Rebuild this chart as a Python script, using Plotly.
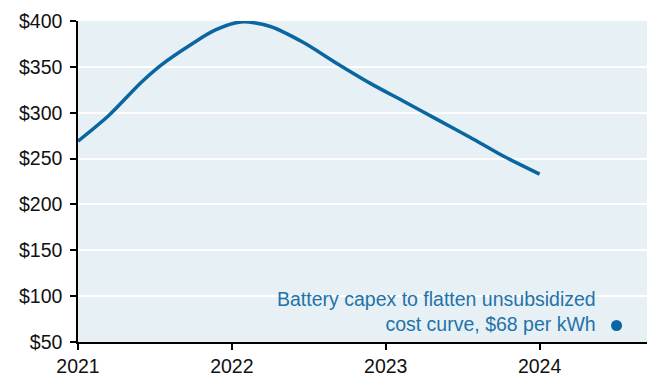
import plotly.graph_objects as go

# battery capex, $ per kWh
years = [2021.0, 2021.2, 2021.41, 2021.54, 2021.74, 2021.89, 2022.06, 2022.25,
         2022.46, 2022.68, 2022.9, 2023.11, 2023.33, 2023.55, 2023.76, 2024.0]
capex = [269, 297, 333, 352, 375, 390, 399, 394,
         377, 354, 332, 313, 293, 273, 253, 233]

target_year = [2024.5]
target_capex = [68]
target_label = "Battery capex to flatten unsubsidized<br>cost curve, $68 per kWh"

blue = "#0a66a0"

fig = go.Figure()
fig.add_trace(go.Scatter(x=years, y=capex, mode="lines",
                         line=dict(color=blue, width=3.5, shape="spline", smoothing=0.8)))
fig.add_trace(go.Scatter(x=target_year, y=target_capex, mode="markers",
                         marker=dict(color=blue, size=11)))

fig.add_annotation(x=target_year[0], y=target_capex[0], text=target_label,
                   showarrow=False, xanchor="right", yanchor="bottom", align="right",
                   xshift=-19, yshift=-12,
                   font=dict(family="Liberation Sans, Arial", size=19.5, color="#1f73aa"))

# page body has an 8px margin, so the figure is shrunk by that much
fig.update_layout(
    width=647, height=366,
    margin=dict(l=70, r=0, t=13, b=32),
    plot_bgcolor="#e7f0f4", paper_bgcolor="white",
    showlegend=False,
    font=dict(family="Liberation Sans, Arial", size=19.5, color="#111"),
)
fig.update_xaxes(range=[2021, 2024.75], tickvals=[2021, 2022, 2023, 2024],
                 ticktext=["2021", "2022", "2023", "2024"], automargin=False,
                 showgrid=False, showline=True, linecolor="black", linewidth=1.5,
                 ticks="outside", ticklen=6, tickwidth=1.5, tickcolor="black", zeroline=False)
fig.update_yaxes(range=[50, 400], dtick=50, tickprefix="$", automargin=False,
                 ticklabelstandoff=4,
                 showgrid=True, gridcolor="white", gridwidth=1.5,
                 showline=True, linecolor="black", linewidth=1.5,
                 ticks="outside", ticklen=6, tickwidth=1.5, tickcolor="black", zeroline=False)

fig.write_html("out.html")
